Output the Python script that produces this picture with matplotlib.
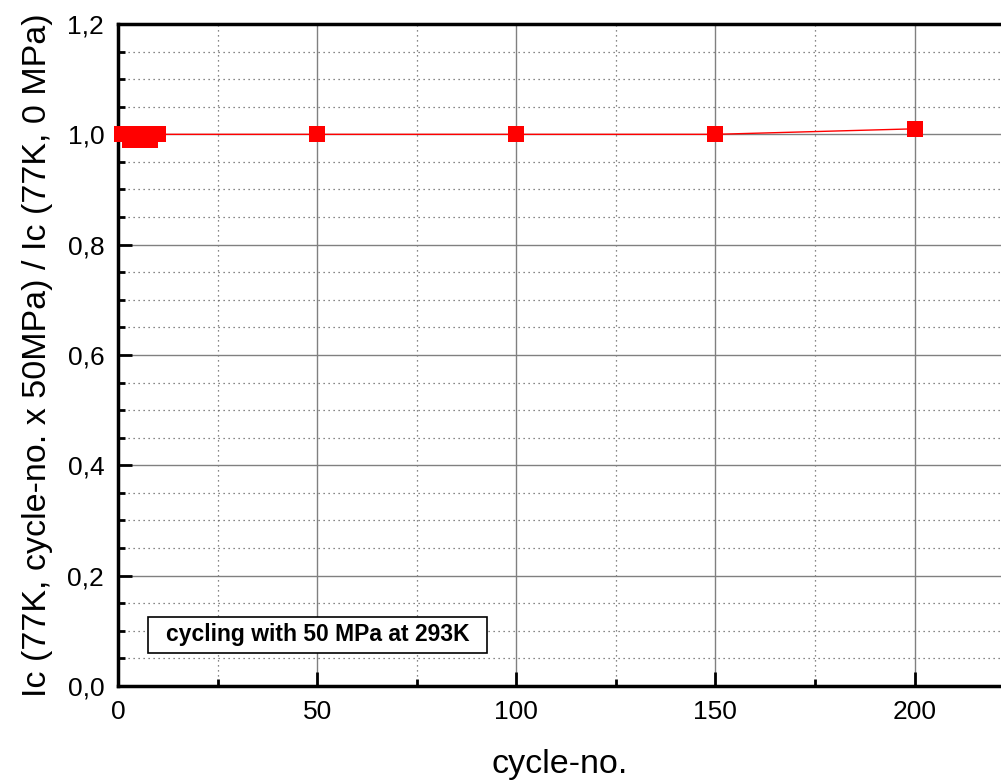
import matplotlib
matplotlib.use("Agg")
from matplotlib import pyplot as plt
from matplotlib.patches import Rectangle
from matplotlib.ticker import MultipleLocator, FuncFormatter

# data
cycles = [1, 2, 3, 4, 5, 6, 7, 8, 9, 10, 50, 100, 150, 200]
ic_ratio = [1.0, 1.0, 0.99, 0.99, 0.99, 1.0, 1.0, 0.99, 1.0, 1.0, 1.0, 1.0, 1.0, 1.01]

x_label = "cycle-no."
y_label = "Ic (77K, cycle-no. x 50MPa) / Ic (77K, 0 MPa)"
note = "cycling with 50 MPa at 293K"

plt.rcParams["font.family"] = ["Liberation Sans", "DejaVu Sans"]

fig = plt.figure(figsize=(10.01, 7.82), dpi=100)
ax = fig.add_axes([0.1179, 0.1228, 0.8821, 0.8465])

ax.plot(cycles, ic_ratio, color="red", linewidth=1, marker="s",
        markersize=11, markeredgewidth=0, zorder=5, clip_on=False)

ax.set_xlim(0, 221.7)
ax.set_ylim(0, 1.2)
ax.xaxis.set_major_locator(MultipleLocator(50))
ax.xaxis.set_minor_locator(MultipleLocator(25))
ax.yaxis.set_major_locator(MultipleLocator(0.2))
ax.yaxis.set_minor_locator(MultipleLocator(0.05))
ax.yaxis.set_major_formatter(FuncFormatter(lambda v, p: f"{v:.1f}".replace(".", ",")))

ax.grid(True, which="major", color="#808080", linestyle="-", linewidth=1)
ax.grid(True, which="minor", color="#606060", linestyle=(0, (1, 3)), linewidth=0.9)
ax.set_axisbelow(True)

ax.tick_params(which="major", direction="in", length=10, width=2, labelsize=19, pad=10)
ax.tick_params(which="minor", direction="in", length=5, width=2)
for side in ["left", "bottom", "top"]:
    ax.spines[side].set_linewidth(2.5)
ax.spines["right"].set_visible(False)

ax.set_xlabel(x_label, fontsize=24.5, labelpad=18)
ax.set_ylabel(y_label, fontsize=24.5, labelpad=10)

# annotation box
ax.add_patch(Rectangle((0.034, 0.0498), 0.3839, 0.0544, transform=ax.transAxes,
                       facecolor="white", edgecolor="black", linewidth=1.2, zorder=6))
ax.text(0.2259, 0.077, note, transform=ax.transAxes, fontsize=16.5, fontweight="bold",
        va="center", ha="center", zorder=7)

plt.savefig("out.png", dpi=100)
plt.close(fig)
